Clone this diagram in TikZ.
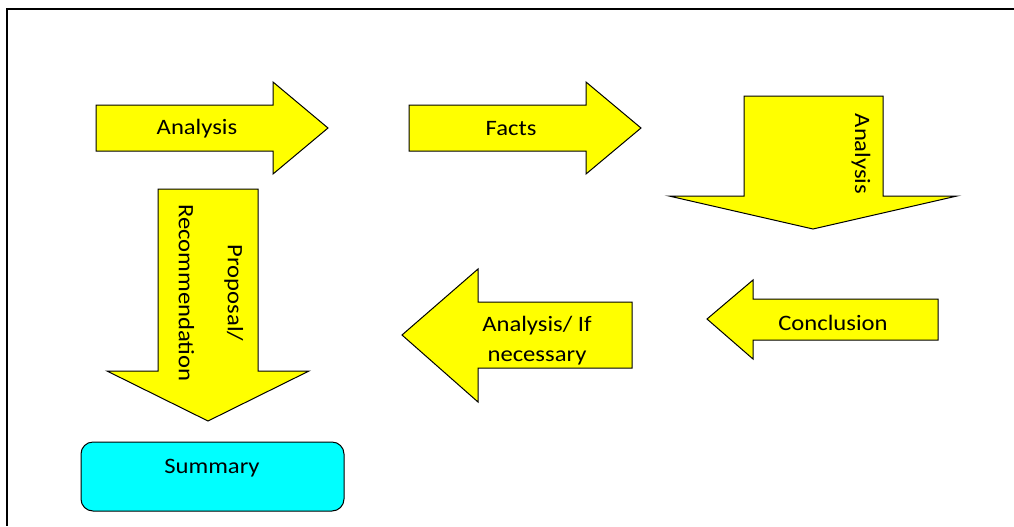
\documentclass[tikz,border=0pt]{standalone}
\usepackage{fontspec}
\setmainfont{Carlito}[FakeStretch=1.12]
\definecolor{arrowyellow}{HTML}{FFFF00}
\definecolor{boxcyan}{HTML}{00FFFF}
\tikzset{
  blockarrow/.style={fill=arrowyellow, draw=black, line width=0.5pt, line join=miter},
  lbl/.style={font=\fontsize{11}{15}\selectfont, align=center, inner sep=0pt},
  summarybox/.style={fill=boxcyan, draw=black, line width=0.5pt, rounded corners=6pt,
    minimum width=131.5pt, minimum height=34.5pt, inner sep=0pt},
  frameline/.style={draw=black, line width=1.2pt}
}
\begin{document}
\begin{tikzpicture}[x=0.5pt, y=-0.5pt]
\useasboundingbox (0,0) rectangle (1014,526);
% frame
\coordinate (ftl) at (7,9);
\coordinate (ftr) at (1014,9);
\coordinate (fbl) at (7,526);
\draw[frameline] (ftr) -- (ftl) -- (fbl);
% Analysis (right)
\draw[blockarrow] (96,105) -- (273,105) -- (273,82) -- (328,128) -- (273,174) -- (273,151) -- (96,151) -- cycle;
\node[lbl] (t1) at (197,129) {Analysis};
% Facts (right)
\draw[blockarrow] (409,105) -- (586,105) -- (586,82) -- (641,128) -- (586,174) -- (586,151) -- (409,151) -- cycle;
\node[lbl] (t2) at (511,129) {Facts};
% Analysis (down)
\draw[blockarrow] (744,96) -- (883,96) -- (883,196) -- (957,196) -- (813,229) -- (669,196) -- (744,196) -- cycle;
\node[lbl, rotate=-90] (t3) at (861,154) {Analysis};
% Conclusion (left)
\draw[blockarrow] (938,299) -- (753,299) -- (753,280) -- (707,319) -- (753,359) -- (753,340) -- (938,340) -- cycle;
\node[lbl] (t4) at (833,323) {Conclusion};
% Analysis/ If necessary (left)
\draw[blockarrow] (632,302) -- (478,302) -- (478,269) -- (402,335) -- (478,402) -- (478,368) -- (632,368) -- cycle;
\node[lbl] (t5) at (537,341) {Analysis/ If\\necessary};
% Proposal/Recommendation (down)
\draw[blockarrow] (158,189) -- (258,189) -- (258,371) -- (309,371) -- (208,421) -- (107,371) -- (158,371) -- cycle;
\node[lbl, rotate=-90] (t6) at (211,293) {Proposal/\\[9.5pt]Recommendation};
% Summary
\node[summarybox] (summary) at (212.5,476.5) {};
\node[lbl] (t7) at (212,468) {Summary};
\end{tikzpicture}
\end{document}
